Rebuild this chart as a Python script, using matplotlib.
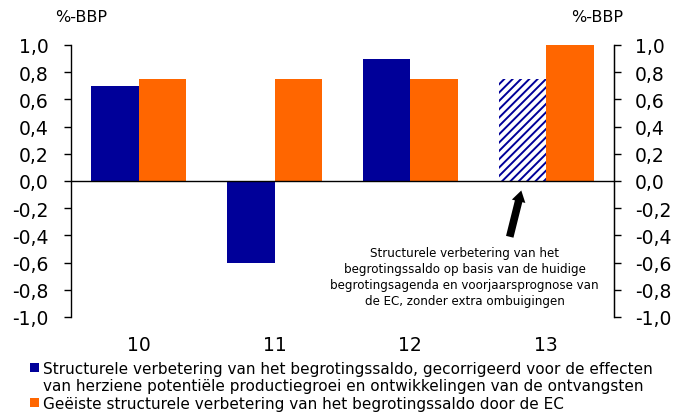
import matplotlib
matplotlib.use("Agg")
import matplotlib.pyplot as plt
from matplotlib.patches import Rectangle

categories = ["10", "11", "12", "13"]
blue_values = [0.7, -0.6, 0.9, 0.75]
orange_values = [0.75, 0.75, 0.75, 1.0]
hatched_flags = [False, False, False, True]
yticks = [-1.0, -0.8, -0.6, -0.4, -0.2, 0.0, 0.2, 0.4, 0.6, 0.8, 1.0]
ytick_labels = [f"{v:.1f}".replace(".", ",") for v in yticks]

legend_blue_lines = ["Structurele verbetering van het begrotingssaldo, gecorrigeerd voor de effecten",
                     "van herziene potentiële productiegroei en ontwikkelingen van de ontvangsten"]
legend_orange_lines = ["Geëiste structurele verbetering van het begrotingssaldo door de EC"]
annot_text = ("Structurele verbetering van het\nbegrotingssaldo op basis van de huidige\n"
              "begrotingsagenda en voorjaarsprognose van\nde EC, zonder extra ombuigingen")

BLUE = "#000099"
ORANGE = "#FF6600"
W, H = 677, 414

plt.rcParams["font.family"] = ["DejaVu Sans"]
plt.rcParams["hatch.linewidth"] = 1.4

fig = plt.figure(figsize=(6.77, 4.14), dpi=100)
ax = fig.add_axes([71/W, 1 - 318/H, (614-71)/W, (318-46)/H])

w = 0.35
x = list(range(len(categories)))
for i, (b, o, h) in enumerate(zip(blue_values, orange_values, hatched_flags)):
    if h:
        ax.bar(i - w/2, b, width=w, facecolor="white", edgecolor=BLUE,
               hatch="////", linewidth=0)
    else:
        ax.bar(i - w/2, b, width=w, color=BLUE, linewidth=0)
    ax.bar(i + w/2, o, width=w, color=ORANGE, linewidth=0)

ax.set_xlim(-0.5, 3.5)
ax.set_ylim(-1.0, 1.0)
ax.axhline(0, color="black", lw=1.0, zorder=3)
ax.set_yticks(yticks)
ax.set_yticklabels(ytick_labels, fontsize=13.5)
ax.set_xticks(x)
ax.set_xticklabels(categories, fontsize=13.5)
ax.tick_params(axis="x", length=0, pad=13)
ax.tick_params(axis="y", direction="out", length=5, width=1, pad=11)
for s in ["top", "bottom"]:
    ax.spines[s].set_visible(False)
for s in ["left", "right"]:
    ax.spines[s].set_linewidth(1.0)

ax2 = ax.twinx()
ax2.set_ylim(-1.0, 1.0)
ax2.set_yticks(yticks)
ax2.set_yticklabels(ytick_labels, fontsize=13.5)
ax2.tick_params(axis="y", direction="out", length=5, width=1, pad=10)
for s in ["top", "bottom", "left"]:
    ax2.spines[s].set_visible(False)

fig.text(81/W, 1 - 17/H, "%-BBP", fontsize=11.5, ha="center", va="center")
fig.text(597/W, 1 - 17/H, "%-BBP", fontsize=11.5, ha="center", va="center")

ax.annotate("", xy=(2.822, -0.05), xytext=(2.727, -0.43),
            arrowprops=dict(arrowstyle="simple,head_length=0.8,head_width=1.0,tail_width=0.55",
                            color="black", lw=0))
ax.text(2.40, -0.70, annot_text, fontsize=8.6, ha="center", va="center", linespacing=1.3)

# legend (drawn manually to match the reference layout)
fig.add_artist(Rectangle((30/W, 1 - 373/H), 9/W, 9/H, transform=fig.transFigure,
                         facecolor=BLUE, edgecolor="none"))
fig.add_artist(Rectangle((30/W, 1 - 408/H), 9/W, 9/H, transform=fig.transFigure,
                         facecolor=ORANGE, edgecolor="none"))
for line, yc in zip(legend_blue_lines + legend_orange_lines, [368, 385.5, 403]):
    fig.text(43/W, 1 - yc/H, line, fontsize=11.0, ha="left", va="center_baseline")

fig.savefig("out.png", dpi=100)
